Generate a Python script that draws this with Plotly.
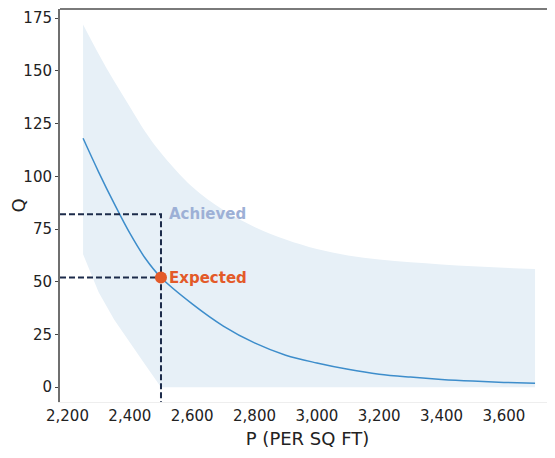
import plotly.graph_objects as go

# ---- data ----
price = [2250, 2300, 2350, 2400, 2450, 2500, 2600, 2700, 2800, 2900,
         3000, 3100, 3200, 3300, 3400, 3500, 3600, 3700]
q_mid = [118, 102, 87, 73, 61, 52, 39.5, 29, 21, 15.2,
         11.5, 8.5, 6.2, 4.8, 3.7, 2.9, 2.3, 1.9]
q_upper = [172, 158, 145, 133, 121, 111, 95, 84, 76, 70,
           65.5, 62.5, 60.5, 59.2, 58.2, 57.3, 56.6, 56]
q_lower = [63, 45, 32, 21, 10.5, 0, 0, 0, 0, 0,
           0, 0, 0, 0, 0, 0, 0, 0]

expected_p, expected_q = 2500, 52
achieved_q = 82

x_ticks = [2200, 2400, 2600, 2800, 3000, 3200, 3400, 3600]
y_ticks = [0, 25, 50, 75, 100, 125, 150, 175]

x_range = [2176, 3764]
y_range = [-7, 179.3]

FONT = "'DejaVu Sans', sans-serif"
DASH_COLOR = "#1c2b4a"
DASH = "6px,3px"
BAND = "#e7f0f7"

fig = go.Figure()

fig.add_trace(go.Scatter(x=price, y=q_lower, mode="lines", line=dict(width=0),
                         hoverinfo="skip", showlegend=False))
fig.add_trace(go.Scatter(x=price, y=q_upper, mode="lines", line=dict(width=0, shape="spline"),
                         fill="tonexty", fillcolor=BAND,
                         hoverinfo="skip", showlegend=False))
fig.add_trace(go.Scatter(x=price, y=q_mid, mode="lines", line=dict(color="#3d8dcb", width=1.5, shape="spline"),
                         showlegend=False))

# dashed guide lines
fig.add_trace(go.Scatter(x=[x_range[0], expected_p, expected_p], y=[achieved_q, achieved_q, y_range[0]],
                         mode="lines", line=dict(color=DASH_COLOR, width=2, dash=DASH),
                         showlegend=False, hoverinfo="skip"))
fig.add_trace(go.Scatter(x=[x_range[0], expected_p], y=[expected_q, expected_q],
                         mode="lines", line=dict(color=DASH_COLOR, width=2, dash=DASH),
                         showlegend=False, hoverinfo="skip"))

fig.add_trace(go.Scatter(x=[expected_p], y=[expected_q], mode="markers",
                         marker=dict(color="#e35a29", size=12), showlegend=False))

fig.add_annotation(x=expected_p, y=achieved_q, text="<b>Achieved</b>", showarrow=False,
                   xanchor="left", xshift=6, font=dict(family=FONT, size=15, color="#9db0d6"))
fig.add_annotation(x=expected_p, y=expected_q, text="<b>Expected</b>", showarrow=False,
                   xanchor="left", xshift=6, font=dict(family=FONT, size=15, color="#e35a29"))

# top frame line
fig.add_shape(type="line", xref="paper", yref="paper", x0=0, x1=1, y0=1, y1=1,
              line=dict(color="#7a7a7a", width=2))

# the page body adds an 8px offset, so the figure is 547x450
fig.update_layout(
    width=547, height=450,
    margin=dict(l=52, r=0, t=1, b=56, autoexpand=False),
    paper_bgcolor="white", plot_bgcolor="white",
    font=dict(family=FONT, size=15, color="#222222"),
    showlegend=False,
)
fig.update_xaxes(range=x_range, tickvals=x_ticks, ticktext=[f"{v:,}" for v in x_ticks],
                 showgrid=False, zeroline=False, showline=True, linecolor="#eeeeee", linewidth=1,
                 ticks="", title=dict(text="P (PER SQ FT)", standoff=8), automargin=False,
                 tickfont=dict(size=15))
fig.update_yaxes(range=y_range, tickvals=y_ticks, showgrid=False, zeroline=False,
                 showline=True, linecolor="#6f6f6f", linewidth=2,
                 ticks="outside", ticklen=3, tickcolor="#444444", automargin=False,
                 title=dict(text="Q", standoff=15), tickfont=dict(size=15))

fig.write_html("out.html")
